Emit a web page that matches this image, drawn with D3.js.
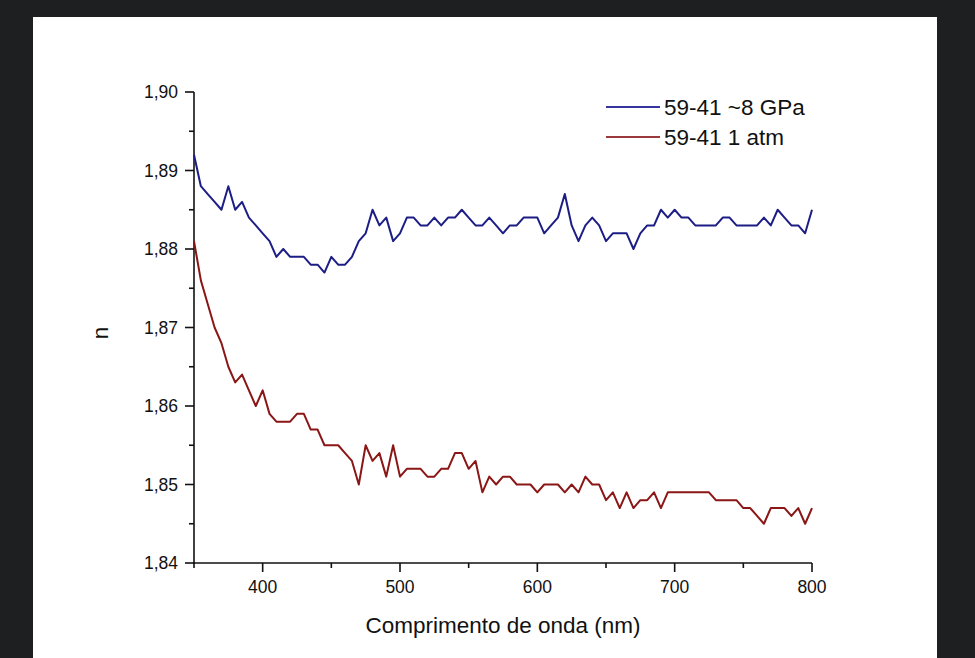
<!DOCTYPE html>
<meta charset="utf-8">
<head>
    <style>
        body { margin: 0; background: #1e1f21; }
        #panel { position: absolute; left: 33px; top: 17px; width: 904px; height: 641px; background: #fff; }
        svg { position: absolute; left: 0; top: 0; }
        text { font-family: "Liberation Sans", Arial, sans-serif; fill: #111; }
    </style>
    <script src="https://d3js.org/d3.v7.min.js"></script>
</head>
<body>
    <div id="panel"></div>
    <svg id="chart" width="975" height="658"></svg>
    <script>
        // wavelength grid, 350..800 nm every 5 nm
        var wavelengths = d3.range(350, 801, 5);

        // 59-41 ~8 GPa
        var nHighPressure = [
            1.892, 1.888, 1.887, 1.886, 1.885, 1.888, 1.885, 1.886, 1.884, 1.883,
            1.882, 1.881, 1.879, 1.880, 1.879, 1.879, 1.879, 1.878, 1.878, 1.877,
            1.879, 1.878, 1.878, 1.879, 1.881, 1.882, 1.885, 1.883, 1.884, 1.881,
            1.882, 1.884, 1.884, 1.883, 1.883, 1.884, 1.883, 1.884, 1.884, 1.885,
            1.884, 1.883, 1.883, 1.884, 1.883, 1.882, 1.883, 1.883, 1.884, 1.884,
            1.884, 1.882, 1.883, 1.884, 1.887, 1.883, 1.881, 1.883, 1.884, 1.883,
            1.881, 1.882, 1.882, 1.882, 1.880, 1.882, 1.883, 1.883, 1.885, 1.884,
            1.885, 1.884, 1.884, 1.883, 1.883, 1.883, 1.883, 1.884, 1.884, 1.883,
            1.883, 1.883, 1.883, 1.884, 1.883, 1.885, 1.884, 1.883, 1.883, 1.882,
            1.885
        ];

        // 59-41 1 atm
        var nAmbient = [
            1.881, 1.876, 1.873, 1.870, 1.868, 1.865, 1.863, 1.864, 1.862, 1.860,
            1.862, 1.859, 1.858, 1.858, 1.858, 1.859, 1.859, 1.857, 1.857, 1.855,
            1.855, 1.855, 1.854, 1.853, 1.850, 1.855, 1.853, 1.854, 1.851, 1.855,
            1.851, 1.852, 1.852, 1.852, 1.851, 1.851, 1.852, 1.852, 1.854, 1.854,
            1.852, 1.853, 1.849, 1.851, 1.850, 1.851, 1.851, 1.850, 1.850, 1.850,
            1.849, 1.850, 1.850, 1.850, 1.849, 1.850, 1.849, 1.851, 1.850, 1.850,
            1.848, 1.849, 1.847, 1.849, 1.847, 1.848, 1.848, 1.849, 1.847, 1.849,
            1.849, 1.849, 1.849, 1.849, 1.849, 1.849, 1.848, 1.848, 1.848, 1.848,
            1.847, 1.847, 1.846, 1.845, 1.847, 1.847, 1.847, 1.846, 1.847, 1.845,
            1.847
        ];

        var seriesNames = ["59-41 ~8 GPa", "59-41 1 atm"];
        var seriesColors = ["#1d1d86", "#8a1616"];
        var legendColors = ["#3535a0", "#9a3a3a"];

        var xTicks = [400, 500, 600, 700, 800];
        var yTicks = [1.84, 1.85, 1.86, 1.87, 1.88, 1.89, 1.90];

        var svg = d3.select("#chart");

        var x = d3.scaleLinear().domain([350, 800]).range([194, 812]);
        var y = d3.scaleLinear().domain([1.84, 1.90]).range([563, 92]);

        var fmtY = function (d) { return d3.format(".2f")(d).replace(".", ","); };

        // minor ticks (half steps)
        var xMinor = d3.range(350, 801, 50).filter(d => xTicks.indexOf(d) < 0);
        var yMinor = d3.range(0, 7).map(i => 1.845 + i * 0.01).filter(d => d < 1.9);

        var gx = svg.append("g").attr("transform", "translate(0,563)");
        gx.append("line").attr("x1", 193).attr("x2", 812).attr("stroke", "#111").attr("stroke-width", 1.6);
        gx.selectAll(".maj").data(xTicks).enter().append("line")
            .attr("x1", d => x(d)).attr("x2", d => x(d)).attr("y1", 0).attr("y2", 9)
            .attr("stroke", "#111").attr("stroke-width", 1.6);
        gx.selectAll(".min").data(xMinor).enter().append("line")
            .attr("x1", d => x(d)).attr("x2", d => x(d)).attr("y1", 0).attr("y2", 5)
            .attr("stroke", "#111").attr("stroke-width", 1.6);
        gx.selectAll("text").data(xTicks).enter().append("text")
            .attr("x", d => x(d)).attr("y", 593)
            .attr("transform", "translate(0,-563)")
            .attr("text-anchor", "middle").attr("font-size", 17.5)
            .text(d => d);

        var gy = svg.append("g").attr("transform", "translate(194,0)");
        gy.append("line").attr("y1", 92).attr("y2", 564).attr("stroke", "#111").attr("stroke-width", 1.6);
        gy.selectAll(".maj").data(yTicks).enter().append("line")
            .attr("y1", d => y(d)).attr("y2", d => y(d)).attr("x1", 0).attr("x2", -9)
            .attr("stroke", "#111").attr("stroke-width", 1.6);
        gy.selectAll(".min").data(yMinor).enter().append("line")
            .attr("y1", d => y(d)).attr("y2", d => y(d)).attr("x1", 0).attr("x2", -5)
            .attr("stroke", "#111").attr("stroke-width", 1.6);
        gy.selectAll("text").data(yTicks).enter().append("text")
            .attr("x", -16).attr("y", d => y(d) + 6)
            .attr("text-anchor", "end").attr("font-size", 17.5)
            .text(fmtY);

        // axis titles
        svg.append("text").attr("x", 503).attr("y", 633)
            .attr("text-anchor", "middle").attr("font-size", 22.5)
            .text("Comprimento de onda (nm)");
        svg.append("text").attr("transform", "translate(108,333) rotate(-90)")
            .attr("text-anchor", "middle").attr("font-size", 22.5)
            .text("n");

        var line = d3.line().x((d, i) => x(wavelengths[i])).y(d => y(d));

        [nHighPressure, nAmbient].forEach(function (vals, k) {
            svg.append("path").datum(vals)
                .attr("d", line)
                .attr("fill", "none")
                .attr("stroke", seriesColors[k])
                .attr("stroke-width", 2)
                .attr("stroke-linejoin", "round");
        });

        // legend
        var lg = svg.append("g").selectAll("g").data(seriesNames).enter().append("g")
            .attr("transform", (d, i) => "translate(606," + (107 + i * 30) + ")");
        lg.append("line").attr("x1", 0).attr("x2", 54)
            .attr("stroke", (d, i) => legendColors[i]).attr("stroke-width", 2);
        lg.append("text").attr("x", 58).attr("y", 8).attr("font-size", 22.5).text(d => d);
    </script>
</body>
